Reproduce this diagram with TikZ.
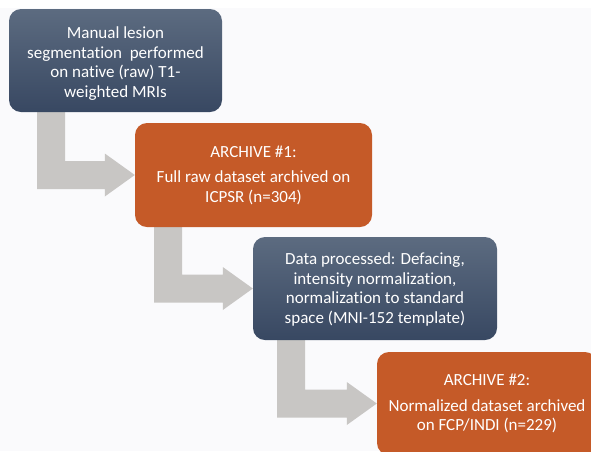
\documentclass[tikz,border=0pt]{standalone}
\usepackage{fontspec}
\setmainfont{Carlito}[Ligatures=NoCommon]
\usetikzlibrary{backgrounds,shadings,calc}
\definecolor{boxblueT}{RGB}{92,107,128}
\definecolor{boxblueB}{RGB}{56,72,98}
\definecolor{boxorange}{RGB}{197,90,40}
\definecolor{arrowgray}{RGB}{200,198,196}
\definecolor{bglight}{RGB}{250,250,252}
\tikzset{
  stepbase/.style={rectangle, rounded corners=12pt, inner sep=0pt, draw=none},
  bluebox/.style={stepbase, top color=boxblueT, bottom color=boxblueB},
  orangebox/.style={stepbase, fill=boxorange},
  steptext/.style={inner sep=0pt, align=center, text=white,
    font=\fontsize{17}{19.5}\selectfont},
  bentfill/.style={fill=arrowgray}
}
\newcommand{\bentarrow}[3]{%
  \fill[bentfill] let \p1=(#1.south), \p2=(#2.west) in
    (#3pt,\y1+2pt) -- (#3pt+28pt,\y1+2pt) -- (#3pt+28pt,\y2+14pt)
    -- (\x2-30pt,\y2+14pt) -- (\x2-30pt,\y2+21.5pt) -- (\x2,\y2)
    -- (\x2-30pt,\y2-21.5pt) -- (\x2-30pt,\y2-14pt) -- (#3pt,\y2-14pt) -- cycle;}
\begin{document}
\begin{tikzpicture}[x=1pt,y=-1pt]
\useasboundingbox (0,0) rectangle (591,451);
\clip (0,0) rectangle (591,451);
\node[bluebox, minimum width=213pt, minimum height=103pt] (b1) at (115.5,60.5) {};
\node[orangebox, minimum width=237pt, minimum height=104pt] (b2) at (253.5,175) {};
\node[bluebox, minimum width=244pt, minimum height=103pt] (b3) at (375,288.5) {};
\node[orangebox, minimum width=220pt, minimum height=103pt] (b4) at (487,403.5) {};
\node[steptext] (t1) at ([yshift=-3pt]b1.center)
  {Manual lesion\\ segmentation\ \ performed\\ on native (raw) T1-\\ weighted MRIs};
\node[steptext] (t2) at (b2.center)
  {ARCHIVE \#1:\\[6pt] Full raw dataset archived on\\ ICPSR (n=304)};
\node[steptext] (t3) at ([yshift=-1pt]b3.center)
  {Data processed: Defacing,\\ intensity normalization,\\ normalization to standard\\ space (MNI-152 template)};
\node[steptext] (t4) at (b4.center)
  {ARCHIVE \#2:\\[6pt] Normalized dataset archived\\ on FCP/INDI (n=229)};
\begin{scope}[on background layer]
  \fill[white] (0,0) rectangle (591,451);
  \fill[bglight] (0,8) rectangle (591,451);
  \bentarrow{b1}{b2}{37}
  \bentarrow{b2}{b3}{154}
  \bentarrow{b3}{b4}{277}
\end{scope}
\end{tikzpicture}
\end{document}
